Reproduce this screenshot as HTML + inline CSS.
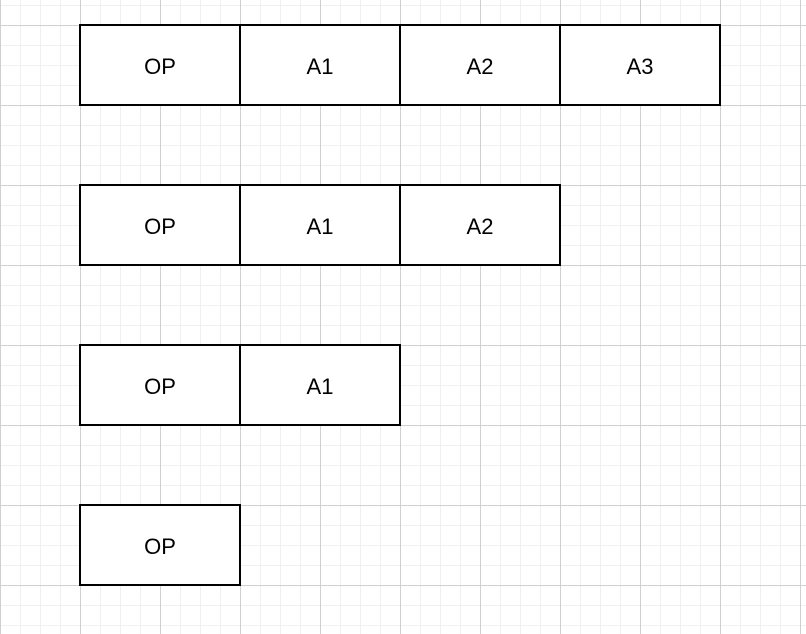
<!DOCTYPE html>
<html><head><style>
html,body{margin:0;padding:0}
body{width:806px;height:634px;position:relative;overflow:hidden;background-color:#fff;
background-image:
linear-gradient(to right,#d0d0d0 1px,transparent 1px),
linear-gradient(to bottom,#d0d0d0 1px,transparent 1px),
linear-gradient(to right,#f0f0f0 1px,transparent 1px),
linear-gradient(to bottom,#f0f0f0 1px,transparent 1px);
background-size:80px 80px,80px 80px,20px 20px,20px 20px;
background-position:0 25px,0 25px,0 5px,0 5px;}
.b{position:absolute;box-sizing:border-box;border:2px solid #000;background:#fff;
display:flex;align-items:center;justify-content:center;font:22px "Liberation Sans",sans-serif;color:#000;transform:translate(-1px,-1px);width:162px;height:82px;padding-top:3px}
</style></head><body>
<div class="b" style="left:80px;top:25px">OP</div>
<div class="b" style="left:240px;top:25px">A1</div>
<div class="b" style="left:400px;top:25px">A2</div>
<div class="b" style="left:560px;top:25px">A3</div>
<div class="b" style="left:80px;top:185px">OP</div>
<div class="b" style="left:240px;top:185px">A1</div>
<div class="b" style="left:400px;top:185px">A2</div>
<div class="b" style="left:80px;top:345px">OP</div>
<div class="b" style="left:240px;top:345px">A1</div>
<div class="b" style="left:80px;top:505px">OP</div>
</body></html>
